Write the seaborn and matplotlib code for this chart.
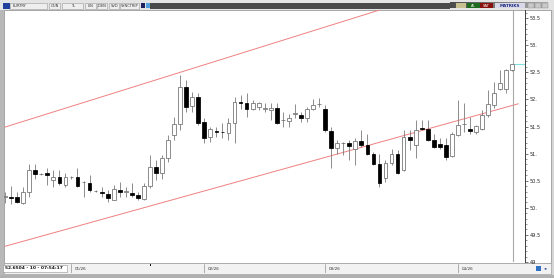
import numpy as np
import pandas as pd
import matplotlib
matplotlib.use("Agg")
import matplotlib.pyplot as plt
import seaborn as sns
from matplotlib.patches import Rectangle

# ---------------- data ----------------
opens = [50.20, 50.20, 50.20, 50.08, 50.30, 50.70, 50.62, 50.65, 50.52, 50.57,
         50.42, 50.56, 50.56, 50.47, 50.46, 50.31, 50.30, 50.25, 50.15, 50.33,
         50.30, 50.28, 50.24, 50.17, 50.40, 50.75, 50.64, 50.91, 51.34, 51.54,
         52.23, 51.88, 52.05, 51.59, 51.30, 51.41, 51.40, 51.38, 51.56, 51.96,
         51.93, 51.82, 51.86, 51.83, 51.80, 51.85, 51.62, 51.60, 51.74, 51.71,
         51.65, 51.82, 51.91, 51.82, 51.41, 51.11, 51.20, 51.19, 51.08, 51.24,
         51.16, 50.99, 50.81, 50.55, 50.82, 51.00, 50.70, 51.31, 51.16, 51.48,
         51.46, 51.26, 51.17, 51.16, 50.95, 51.34, 51.54, 51.45, 51.40, 51.46,
         51.71, 51.89, 52.20, 52.20, 52.54]
highs = [50.30, 50.40, 50.30, 50.39, 50.81, 50.80, 50.64, 50.73, 50.70, 50.70,
         50.64, 50.58, 50.73, 50.50, 50.60, 50.33, 50.38, 50.33, 50.42, 50.48,
         50.39, 50.45, 50.30, 50.45, 50.97, 50.88, 50.97, 51.34, 51.68, 52.45,
         52.36, 52.14, 52.11, 51.65, 51.50, 51.50, 51.56, 51.65, 52.05, 52.08,
         52.11, 51.99, 51.96, 51.93, 51.93, 51.93, 51.77, 51.74, 51.91, 51.77,
         51.86, 52.00, 52.02, 51.90, 51.50, 51.25, 51.22, 51.25, 51.28, 51.43,
         51.37, 51.03, 51.00, 50.88, 51.08, 51.06, 51.43, 51.43, 51.62, 51.62,
         51.62, 51.37, 51.28, 51.28, 51.40, 51.99, 51.93, 51.68, 51.53, 51.80,
         52.17, 52.32, 52.54, 52.57, 52.65]
lows = [50.08, 50.07, 50.08, 50.07, 50.20, 50.54, 50.60, 50.42, 50.39, 50.42,
        50.39, 50.54, 50.39, 50.20, 50.30, 50.29, 50.20, 50.11, 50.14, 50.20,
        50.20, 50.20, 50.14, 50.14, 50.36, 50.51, 50.54, 50.85, 51.25, 51.43,
        51.77, 51.77, 51.53, 51.19, 51.22, 51.31, 51.28, 51.25, 51.19, 51.83,
        51.68, 51.80, 51.80, 51.77, 51.62, 51.55, 51.50, 51.50, 51.65, 51.59,
        51.59, 51.80, 51.86, 51.40, 50.73, 51.00, 50.97, 50.88, 50.79, 51.13,
        50.97, 50.79, 50.39, 50.48, 50.79, 50.62, 50.68, 51.06, 50.91, 51.43,
        51.24, 51.11, 51.09, 50.89, 50.94, 51.32, 51.40, 51.37, 51.37, 51.43,
        51.68, 51.85, 52.17, 52.11, 52.52]
closes = [50.21, 50.19, 50.11, 50.30, 50.70, 50.62, 50.62, 50.60, 50.57, 50.46,
          50.56, 50.56, 50.40, 50.48, 50.33, 50.31, 50.27, 50.19, 50.34, 50.30,
          50.30, 50.24, 50.19, 50.40, 50.75, 50.64, 50.91, 51.25, 51.54, 52.23,
          51.86, 52.05, 51.56, 51.28, 51.45, 51.40, 51.39, 51.56, 51.96, 51.93,
          51.83, 51.93, 51.93, 51.83, 51.85, 51.57, 51.62, 51.65, 51.75, 51.66,
          51.82, 51.90, 51.91, 51.43, 51.11, 51.20, 51.20, 51.14, 51.23, 51.16,
          50.99, 50.81, 50.46, 50.82, 51.00, 50.64, 51.31, 51.25, 51.43, 51.45,
          51.26, 51.12, 51.12, 50.94, 51.36, 51.53, 51.55, 51.42, 51.51, 51.71,
          51.91, 52.12, 52.31, 52.54, 52.65]

month_labels = ["01/26", "02/26", "03/26", "04/26"]
month_start_bar = [11, 33, 53, 75]

y_tick_values = [49.0, 49.5, 50.0, 50.5, 51.0, 51.5, 52.0, 52.5, 53.0, 53.5]
y_tick_labels = ["49", "49.5", "50.", "50.5", "51.", "51.5", "52.", "52.5", "53.", "53.5"]

channel_bar = [0, 85]
upper_channel = [51.49, 54.45]
lower_channel = [49.29, 51.92]

last_price = 52.6504
status_text = "52.6504 - 10 - 07:54:17"
header_items = ["EURTRY", "GUN", "TL", "LIN", "IDEN", "SVD", "SYNCTRIP"]

df = pd.DataFrame({"open": opens, "high": highs, "low": lows, "close": closes})
df["bar"] = np.arange(len(df))
df["up"] = df["close"] >= df["open"]

# ---------------- figure ----------------
sns.set_theme(style="white")
plt.rcParams["font.family"] = ["DejaVu Sans"]

W, H = 554, 278
fig = plt.figure(figsize=(W / 100, H / 100), dpi=100)
fig.patch.set_facecolor("#d6d6d6")

# decoration layer in pixel coordinates
deco = fig.add_axes([0, 0, 1, 1], zorder=0)
deco.set_xlim(0, W)
deco.set_ylim(H, 0)
deco.axis("off")
deco.add_patch(Rectangle((4, 10), 547, 253, facecolor="white", edgecolor="#9a9a9a", lw=0.6))
# header bar
deco.add_patch(Rectangle((0, 0), W, 10, facecolor="#e4e4e4", edgecolor="none"))
deco.add_patch(Rectangle((150, 2.5), 300, 6, facecolor="#4a4a4a", edgecolor="none"))
grad = np.linspace(0, 1, 50).reshape(1, -1)
deco.imshow(grad, extent=(450, 548, 8.5, 2.5), cmap=matplotlib.colors.LinearSegmentedColormap.from_list("g", ["#4a4a4a", "#b0b0b0"]), aspect="auto", zorder=1)
deco.add_patch(Rectangle((3, 2.5), 7, 6, facecolor="#2040a0", edgecolor="none", zorder=2))
box_x = [(10, 48), (49, 61), (62, 84), (85, 97), (97, 108), (109, 120), (120, 140)]
for (a, b), t in zip(box_x, header_items):
    deco.add_patch(Rectangle((a, 2.5), b - a - 0.8, 6, facecolor="#eeeeee", edgecolor="#9a9a9a", lw=0.4, zorder=2))
    deco.text(a + 2.5 if t == "EURTRY" else (a + b) / 2, 5.7, t, fontsize=2.6,
              ha="left" if t == "EURTRY" else "center", va="center", color="#333333", zorder=3)
deco.add_patch(Rectangle((140.5, 3), 4, 5, facecolor="#202060", edgecolor="none", zorder=2))
deco.add_patch(Rectangle((145.5, 3), 4, 5, facecolor="#50a0e0", edgecolor="none", zorder=2))
deco.add_patch(Rectangle((456, 3), 10, 5, facecolor="#c8c090", edgecolor="none", zorder=2))
deco.add_patch(Rectangle((467, 3), 12.5, 5, facecolor="#1e6a1e", edgecolor="none", zorder=2))
deco.text(473, 5.6, "AL", fontsize=2.6, color="white", ha="center", va="center", zorder=3)
deco.add_patch(Rectangle((480, 3), 13, 5, facecolor="#8a1010", edgecolor="none", zorder=2))
deco.text(486.5, 5.6, "SAT", fontsize=2.6, color="white", ha="center", va="center", zorder=3)
deco.add_patch(Rectangle((495, 3), 30, 5, facecolor="#d8d8e8", edgecolor="none", zorder=2))
deco.text(510, 5.6, "MATRIKS", fontsize=3.0, color="#203080", ha="center", va="center",
          fontweight="bold", zorder=3)
for xx in (528, 535, 542):
    deco.add_patch(Rectangle((xx, 3), 5.5, 5, facecolor="#c8c8c8", edgecolor="#888888", lw=0.3, zorder=2))
# left frame strip
deco.add_patch(Rectangle((0, 10), 4, 266, facecolor="#b8b8b8", edgecolor="none"))
# bottom bar
deco.add_patch(Rectangle((4, 263), 547, 11, facecolor="#f2f2f2", edgecolor="#a0a0a0", lw=0.5))
deco.add_patch(Rectangle((3, 264.5), 64, 7, facecolor="white", edgecolor="#909090", lw=0.4, zorder=2))
deco.text(5, 268.2, status_text, fontsize=3.2, color="#111111", va="center", ha="left",
          fontweight="bold", zorder=3)
deco.add_patch(Rectangle((150, 263.5), 1.2, 2.2, facecolor="#111111", edgecolor="none", zorder=3))
deco.add_patch(Rectangle((536, 266), 5, 5, facecolor="#3070c0", edgecolor="none", zorder=3))
deco.text(546, 268.5, "◂▸", fontsize=3, color="#3050a0", ha="center", va="center", zorder=3)
deco.add_patch(Rectangle((0, 275), W, 3, facecolor="#b0b0b0", edgecolor="none"))

# ---------------- main chart ----------------
px0, px1, py0, py1 = 4, 525, 10, 262
ax = fig.add_axes([px0 / W, 1 - py1 / H, (px1 - px0) / W, (py1 - py0) / H], zorder=2)
ax.set_facecolor("none")

n = len(df)
x = df["bar"].to_numpy()
o = df["open"].to_numpy()
c = df["close"].to_numpy()
up = df["up"].to_numpy()

ax.vlines(x, df["low"], df["high"], color="#7a7a7a", lw=0.6, zorder=2)
body_bottom = np.minimum(o, c)
body_h = np.maximum(np.abs(c - o), 0.004)
face = np.where(up, "white", "black")
edge = np.where(up, "#6e6e6e", "black")
ax.bar(x, body_h, bottom=body_bottom, width=0.62, color=face, edgecolor=edge,
       linewidth=0.55, zorder=3)

sns.lineplot(x=channel_bar, y=upper_channel, color="#f08080", lw=0.7, ax=ax, zorder=1)
sns.lineplot(x=channel_bar, y=lower_channel, color="#f08080", lw=0.7, ax=ax, zorder=1)

ax.axvline(n - 1 + 0.15, color="#a8a8a8", lw=0.8, zorder=1)
ax.hlines(last_price, n - 1 + 0.15, 86.1, color="#7fdede", lw=0.8, zorder=2)

ax.set_xlim(-0.17, 86.1)
ax.set_ylim(49.0, 53.65)
for s in ("left", "top", "bottom"):
    ax.spines[s].set_visible(False)
ax.spines["right"].set_color("#404040")
ax.spines["right"].set_linewidth(0.7)
ax.set_xticks([])
ax.yaxis.tick_right()
ax.set_yticks(y_tick_values)
ax.set_yticklabels(y_tick_labels)
ax.set_yticks(np.arange(49.0, 53.65, 0.1), minor=True)
ax.tick_params(axis="y", which="major", length=2.5, width=0.5, color="#404040",
               labelsize=3.6, pad=1, labelcolor="#222222", right=True, left=False)
ax.tick_params(axis="y", which="minor", length=1.2, width=0.4, color="#404040", right=True, left=False)
ax.set_xlabel("")
ax.set_ylabel("")
ax.grid(False)

# ---------------- date strip ----------------
dax = fig.add_axes([px0 / W, 1 - 273 / H, (px1 - px0) / W, 9 / H], zorder=3)
dax.set_xlim(ax.get_xlim())
dax.set_ylim(0, 1)
dax.axis("off")
for b, lab in zip(month_start_bar, month_labels):
    dax.axvline(b, color="#909090", lw=0.5)
    dax.text(b + 0.6, 0.5, lab, fontsize=3.0, color="#333333", va="center", ha="left")

fig.savefig("out.png", dpi=100)
